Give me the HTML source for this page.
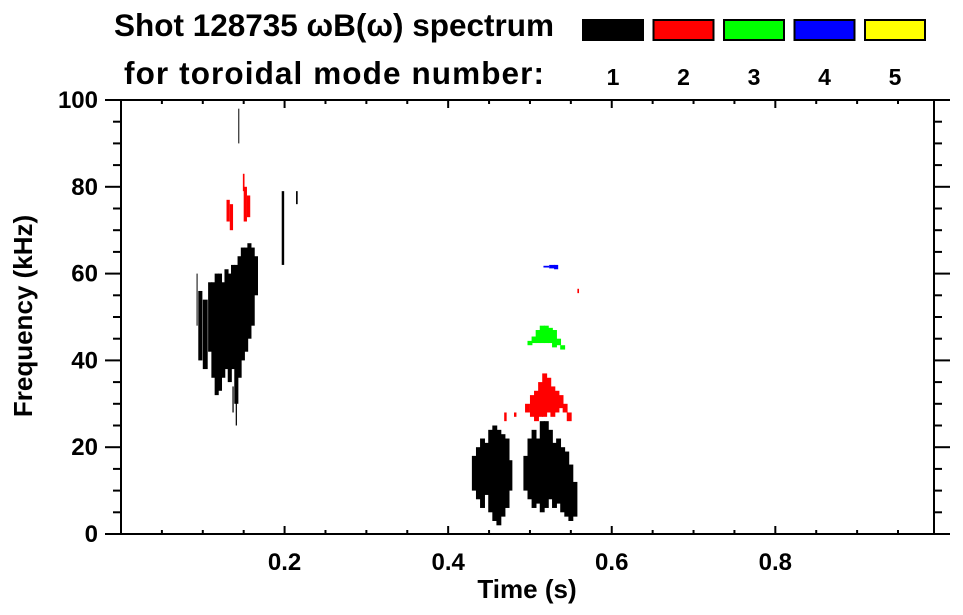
<!DOCTYPE html>
<html><head><meta charset="utf-8"><style>
body{margin:0;background:#fff;}
svg{display:block;font-family:"Liberation Sans",sans-serif;font-weight:bold;}
</style></head><body>
<svg id="c" width="963" height="615" viewBox="0 0 963 615">
<text x="334" y="36" font-size="31.5" text-anchor="middle">Shot 128735 ωB(ω) spectrum</text>
<text x="334" y="84" font-size="31.5" text-anchor="middle" textLength="420" lengthAdjust="spacing">for toroidal mode number:</text>
<g id="legend"></g>
<g id="axes"></g>
<g id="marks"></g>
<text x="527" y="598" font-size="26" text-anchor="middle">Time (s)</text>
<text transform="translate(32,316) rotate(-90)" font-size="26" text-anchor="middle">Frequency (kHz)</text>
</svg>
<script>
const modeColors=["#000000","#ff0000","#00ff00","#0000ff","#ffff00"];
const modeLabels=["1","2","3","4","5"];
const xTicks=[0.2,0.4,0.6,0.8];
const yTicks=[0,20,40,60,80,100];
// spectrogram columns: time(s), fLow(kHz), fHigh(kHz), mode index
const colTime=[0.093,0.097,0.103,0.109,0.113,0.117,0.121,0.125,0.129,0.133,0.137,0.141,0.145,0.149,0.153,0.157,0.161,0.165,0.141,0.137,0.144,0.198,0.215,
0.131,0.135,0.152,0.156,0.150,
0.432,0.437,0.442,0.447,0.452,0.457,0.462,0.467,0.472,0.476,
0.495,0.500,0.505,0.510,0.515,0.520,0.525,0.530,0.535,0.540,0.545,0.550,0.555,
0.497,0.503,0.508,0.513,0.518,0.523,0.528,0.533,0.538,0.543,0.548,0.470,0.482,
0.500,0.505,0.510,0.515,0.520,0.525,0.530,0.535,0.540,
0.520,0.527,0.532,0.559];
const colLow=[48,40,38,42,36,32,33,36,38,35,38,30,36,40,42,45,48,55,25,28,90,62,76,
72,70,72,73,79,
10,8,6,9,5,3,2,4,6,10,
10,8,6,7,5,6,8,6,7,5,4,3,4,
28,27,26,27,27,28,27,28,29,28,26,26,27,
43.5,44,44,44,44,44,43,43.5,42.5,
61.4,61.2,61,55.5];
const colHigh=[60,56,54,58,58,60,60,58,61,60,62,62,64,66,66,67,66,64,32,34,98,79,79,
77,76,80,78,83,
18,20,22,21,24,25,24,23,22,17,
18,22,24,22,26,26,24,21,22,20,19,16,12,
30,32,33,35,37,36,34,33,32,30,28,28,28,
44.5,45.5,47,48,48,47.5,47,45,43.5,
61.8,62,62,56.5];
const colMode=[0,0,0,0,0,0,0,0,0,0,0,0,0,0,0,0,0,0,0,0,0,0,0,
1,1,1,1,1,
0,0,0,0,0,0,0,0,0,0,
0,0,0,0,0,0,0,0,0,0,0,0,0,
1,1,1,1,1,1,1,1,1,1,1,1,1,
2,2,2,2,2,2,2,2,2,
3,3,3,1];
const colWidth=[0.0012,0.005,0.006,0.005,0.005,0.005,0.005,0.005,0.005,0.005,0.005,0.005,0.005,0.005,0.005,0.005,0.005,0.005,0.0015,0.0015,0.0012,0.003,0.002,
0.004,0.004,0.004,0.004,0.002,
0.006,0.006,0.006,0.006,0.006,0.006,0.006,0.006,0.006,0.005,
0.006,0.006,0.006,0.006,0.006,0.006,0.006,0.006,0.006,0.006,0.006,0.006,0.006,
0.006,0.006,0.006,0.006,0.006,0.006,0.006,0.006,0.006,0.006,0.006,0.003,0.003,
0.006,0.006,0.006,0.006,0.006,0.006,0.006,0.006,0.006,
0.007,0.007,0.005,0.002];
const X0=121,X1=934,Y0=534,Y1=100,TMAX=0.994,FMAX=100;
const xs=t=>X0+t/TMAX*(X1-X0);
const ys=f=>Y0-f/FMAX*(Y0-Y1);
const NS="http://www.w3.org/2000/svg";
function mk(tag,attrs,parent){const e=document.createElementNS(NS,tag);for(const k in attrs)e.setAttribute(k,attrs[k]);parent.appendChild(e);return e;}
const leg=document.getElementById('legend');
for(let i=0;i<5;i++){
 const bx=583+i*70.5;
 const r=mk('rect',{x:bx,y:20,width:60,height:20,fill:modeColors[i],stroke:'#000','stroke-width':2},leg);
 
 
 const t=mk('text',{x:bx+30,y:85,'font-size':23,'text-anchor':'middle'},leg);
 t.textContent=modeLabels[i];
 
 
}
const ax=document.getElementById('axes');
const ln=(x1,y1,x2,y2)=>mk('line',{x1,y1,x2,y2,stroke:'#000','stroke-width':2},ax);
const frame=mk('rect',{x:X0,y:Y1,width:X1-X0,height:Y0-Y1,fill:'none',stroke:'#000','stroke-width':2},ax);


for(let t=0.05;t<TMAX;t+=0.05){
 const x=xs(t);const major=Math.abs(t*10-Math.round(t*10))<1e-6&&Math.round(t*10)%2===0;
 const L=major?8:4;ln(x,Y0,x,Y0-L);ln(x,Y1,x,Y1+L);
}
for(let f=0;f<=100;f+=5){
 const y=ys(f);const L=f%20===0?16:8;ln(X0,y,X0-L,y);ln(X1,y,X1+L,y);
}
xTicks.forEach(t=>{const e=mk('text',{x:xs(t),y:570,'font-size':24,'text-anchor':'middle'},ax);e.textContent=t.toFixed(1);
 
 });
yTicks.forEach(f=>{const e=mk('text',{x:98,y:ys(f)+8,'font-size':24,'text-anchor':'end'},ax);e.textContent=String(f);
 
 });
const mg=document.getElementById('marks');
for(let i=0;i<colTime.length;i++){
 const x=xs(colTime[i]-colWidth[i]/2),w=xs(colTime[i]+colWidth[i]/2)-x;
 const y=ys(colHigh[i]),h=ys(colLow[i])-y;
 const r=mk('rect',{x,y,width:Math.max(w,1),height:Math.max(h,1),fill:modeColors[colMode[i]]},mg);
 
 
}
</script>
</body></html>
